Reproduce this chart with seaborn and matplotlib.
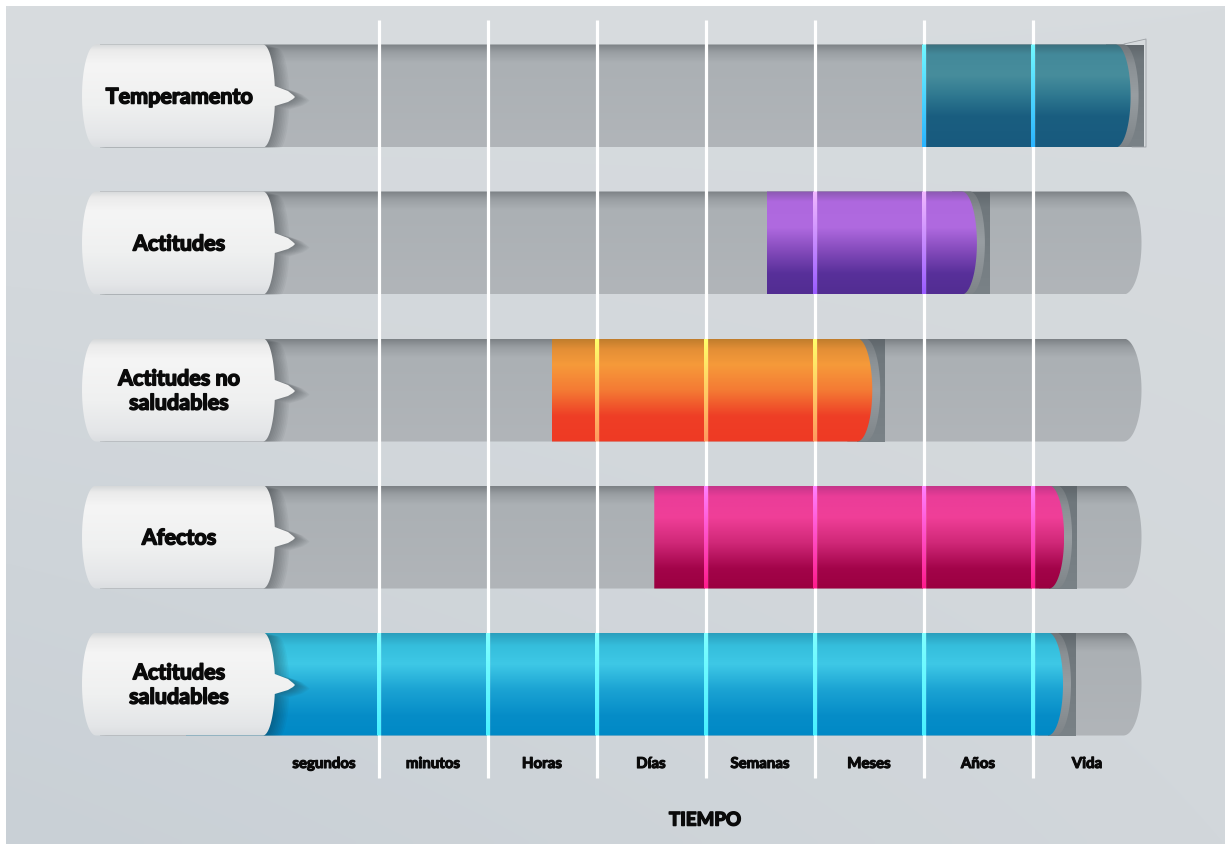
import numpy as np
import pandas as pd
import matplotlib
matplotlib.use("Agg")
import matplotlib.pyplot as plt
import matplotlib.patheffects as pe
from matplotlib.path import Path
from matplotlib.patches import PathPatch, Rectangle
from matplotlib.colors import LinearSegmentedColormap
import seaborn as sns

# ---------------------------------------------------------------- data
categories = ["Temperamento", "Actitudes", "Actitudes no\nsaludables",
              "Afectos", "Actitudes\nsaludables"]
time_labels = ["segundos", "minutos", "Horas", "Días",
               "Semanas", "Meses", "Años", "Vida"]
range_start = [5.985, 4.56, 2.59, 3.53, -0.77]
range_end = [7.9, 6.49, 5.53, 7.29, 7.28]
axis_title = "TIEMPO"

# ---------------------------------------------------------------- styling
bar_gradients = [
    [(0, "#3a6f7d"), (0.1, "#43899a"), (0.3, "#478d9c"), (0.5, "#2f7890"),
     (0.7, "#1a5e80"), (1, "#185a7e")],
    [(0, "#8a58b0"), (0.1, "#ae68de"), (0.35, "#b06ae0"), (0.6, "#8048b8"),
     (0.8, "#58309a"), (1, "#522d92")],
    [(0, "#c07d2c"), (0.1, "#e48f36"), (0.25, "#f69a3a"), (0.5, "#f47a34"),
     (0.75, "#ee3e26"), (1, "#ef3a24")],
    [(0, "#c5358a"), (0.1, "#ea3d98"), (0.3, "#f03f98"), (0.55, "#d02878"),
     (0.8, "#a3044a"), (1, "#9b0040")],
    [(0, "#2a9fbd"), (0.12, "#35bedc"), (0.3, "#3ec8e6"), (0.55, "#1ba3d3"),
     (0.8, "#068dc8"), (1, "#0089c6")],
]
glow_gradients = [
    ["#72f8ff", "#2ab4ff"],
    ["#f2b8ff", "#9a5cff"],
    ["#ffff6a", "#ff9960"],
    ["#ff80ff", "#ff1a8c"],
    ["#80ffff", "#48f0ff"],
]
tube_gradient = [(0, "#7c8185"), (0.08, "#9a9fa3"), (0.18, "#abb0b4"), (1, "#b1b5b9")]
pill_gradient = [(0, "#d6d8da"), (0.06, "#ebebeb"), (0.2, "#f5f5f5"),
                 (0.6, "#eff0f0"), (0.9, "#e4e6e8"), (1, "#dadde0")]
dark_gradient = [(0, "#5f666b"), (0.15, "#6f777c"), (1, "#7a8287")]
ring_gradient = [(0, "#6f7579"), (0.2, "#8a9094"), (0.5, "#989ea2"), (1, "#7e8488")]

FONT = ["Lato", "DejaVu Sans"]
HEAVY = [pe.withStroke(linewidth=1.1, foreground="#0a0a0a")]
HEAVY_SMALL = [pe.withStroke(linewidth=0.8, foreground="#0a0a0a")]

# pixel-based layout helpers (figure is 1225 x 846 px)
PX_X0, PX_COL = 269.5, 109.0
PX_Y0, PX_ROW = 96.0, 147.0


def xv(px):
    return (px - PX_X0) / PX_COL


def yv(py):
    return (py - PX_Y0) / PX_ROW


def wx(px):
    return px / PX_COL


def wy(py):
    return py / PX_ROW


HALF_H = wy(51.5)


def cmap_of(stops):
    return LinearSegmentedColormap.from_list("g", stops)


def vgrad(ax, stops, x0, x1, yc, hh, clip, z):
    arr = cmap_of(stops)(np.linspace(0, 1, 256))[:, None, :3]
    im = ax.imshow(arr, extent=(x0, x1, yc + hh, yc - hh), origin="upper",
                   aspect="auto", interpolation="bilinear", zorder=z)
    im.set_clip_path(clip)
    return im


def ends_path(x0, x1, yc, hh, rxl, rxr, tip=None, tip_hh=0.0):
    verts = []
    if rxl > 0:
        t = np.linspace(np.pi / 2, 3 * np.pi / 2, 40)
        cx = x0 + rxl
        verts += list(zip(cx + rxl * np.cos(t), yc + hh * np.sin(t)))
    else:
        verts += [(x0, yc + hh), (x0, yc - hh)]
    if rxr > 0:
        cx = x1 - rxr
        if tip is None:
            t = np.linspace(-np.pi / 2, np.pi / 2, 40)
            verts += list(zip(cx + rxr * np.cos(t), yc + hh * np.sin(t)))
        else:
            a = np.arcsin(tip_hh / hh)
            t1 = np.linspace(-np.pi / 2, -a, 30)
            t2 = np.linspace(a, np.pi / 2, 30)
            verts += list(zip(cx + rxr * np.cos(t1), yc + hh * np.sin(t1)))
            verts += [(tip - wx(7), yc - wy(5)), (tip - wx(2), yc - wy(1)),
                      (tip, yc + wy(1)), (tip - wx(2), yc + wy(3)),
                      (tip - wx(7), yc + wy(6))]
            verts += list(zip(cx + rxr * np.cos(t2), yc + hh * np.sin(t2)))
    else:
        verts += [(x1, yc - hh), (x1, yc + hh)]
    verts.append(verts[0])
    codes = [Path.MOVETO] + [Path.LINETO] * (len(verts) - 2) + [Path.CLOSEPOLY]
    return Path(verts, codes)


def add_clip(ax, path):
    p = PathPatch(path, facecolor="none", edgecolor="none", transform=ax.transData)
    ax.add_patch(p)
    return p


# ---------------------------------------------------------------- figure
sns.set_theme(style="white")
fig = plt.figure(figsize=(12.25, 8.46), dpi=100)
fig.patch.set_facecolor("white")
ax = fig.add_axes([0, 0, 1, 1])

# background panel with a soft diagonal gradient
gx = np.linspace(0, 1, 200)[None, :, None]
gy = np.linspace(0, 1, 140)[:, None, None]
tl = np.array([0xd8, 0xdc, 0xdf]) / 255
tr = np.array([0xd7, 0xdb, 0xde]) / 255
bl = np.array([0xc9, 0xd0, 0xd6]) / 255
br = np.array([0xd2, 0xd7, 0xdb]) / 255
bg = (tl * (1 - gx) * (1 - gy) + tr * gx * (1 - gy) + bl * (1 - gx) * gy + br * gx * gy)
ax.imshow(bg, extent=(xv(6), xv(1225), yv(844), yv(7)), origin="upper",
          aspect="auto", interpolation="bilinear", zorder=0)

# grey tubes: one full-length bar per category
tubes = pd.DataFrame({"categoria": categories,
                      "extension": [len(time_labels)] * len(categories)})
sns.barplot(data=tubes, y="categoria", x="extension", orient="h",
            width=2 * HALF_H, color="#adb2b6", ax=ax)
tube_bars = list(ax.patches)

for i, bar in enumerate(tube_bars):
    bar.set_visible(False)
    hh = bar.get_height() / 2
    yc = bar.get_y() + hh
    tube_end = bar.get_x() + bar.get_width()

    tube_path = ends_path(xv(100), tube_end, yc, hh, 0, wx(18))
    tube_clip = add_clip(ax, tube_path)
    vgrad(ax, tube_gradient, xv(100), tube_end, yc, hh, tube_clip, 1)

    s, e = range_start[i], range_end[i]

    # dark socket and ring around the rounded end of the range bar
    dark = Rectangle((e - wx(15), yc - hh), wx(28), 2 * hh,
                     transform=ax.transData, facecolor="none", edgecolor="none")
    ax.add_patch(dark)
    dark.set_clip_path(tube_clip)
    vgrad(ax, dark_gradient, e - wx(15), e + wx(13), yc, hh, dark, 2)
    ring_path = ends_path(e - wx(25), e + wx(8), yc, hh, 0, wx(15))
    ring_clip = add_clip(ax, ring_path)
    vgrad(ax, ring_gradient, e - wx(25), e + wx(8), yc, hh, ring_clip, 2.1)

    # coloured range bar
    bar_path = ends_path(s, e, yc, hh, 0, wx(15))
    bar_clip = add_clip(ax, bar_path)
    vgrad(ax, bar_gradients[i], s, e, yc, hh, bar_clip, 3)

    # glowing separators where they cross the coloured bar
    for b in range(1, len(time_labels)):
        if s < b < e:
            vgrad(ax, [(0, glow_gradients[i][0]), (1, glow_gradients[i][1])],
                  b - wx(1.6), b + wx(1.6), yc, hh, bar_clip, 6)

    # label plate with pointer
    pill = ends_path(xv(82), xv(275), yc, hh, wx(14), wx(12),
                     tip=xv(295), tip_hh=wy(10))
    for k in range(1, 10):
        shadow = PathPatch(pill.transformed(
            matplotlib.transforms.Affine2D().translate(wx(1.6 * k), wy(0.4 * k))),
            facecolor="#1d2226", edgecolor="none", alpha=0.045, zorder=4,
            transform=ax.transData)
        ax.add_patch(shadow)
        shadow.set_clip_path(tube_clip)
    pill_clip = add_clip(ax, pill)
    vgrad(ax, pill_gradient, xv(82), xv(296), yc, hh, pill_clip, 7)

    ax.text(xv(179), yc + wy(1), categories[i], ha="center", va="center",
            fontsize=15.5, fontweight="bold", family=FONT, color="#0a0a0a",
            linespacing=1.2, zorder=8, path_effects=HEAVY)

# thin outline left beside the first tube's end
ax.plot([xv(1124), xv(1146), xv(1146), xv(1132)],
        [yv(44), yv(39), yv(147), yv(147)], color="#9ca0a4", lw=0.6, zorder=2.5)

# white separators between time scales
ax.vlines(np.arange(1, len(time_labels)), yv(20), yv(778),
          color="white", lw=2.3, zorder=5)

# time scale labels and axis title
for j, lab in enumerate(time_labels):
    ax.text(j + 0.5, yv(764), lab, ha="center", va="center", fontsize=10.8,
            fontweight="bold", family=FONT, color="#0a0a0a", zorder=8,
            path_effects=HEAVY_SMALL)
ax.text(xv(705), yv(820), axis_title, ha="center", va="center", fontsize=13.5,
        fontweight="bold", family=FONT, color="#0a0a0a", zorder=8,
        path_effects=HEAVY)

ax.set_xlim(xv(0), xv(1225))
ax.set_ylim(yv(846), yv(0))
ax.set_axis_off()

fig.savefig("out.png", dpi=100)
